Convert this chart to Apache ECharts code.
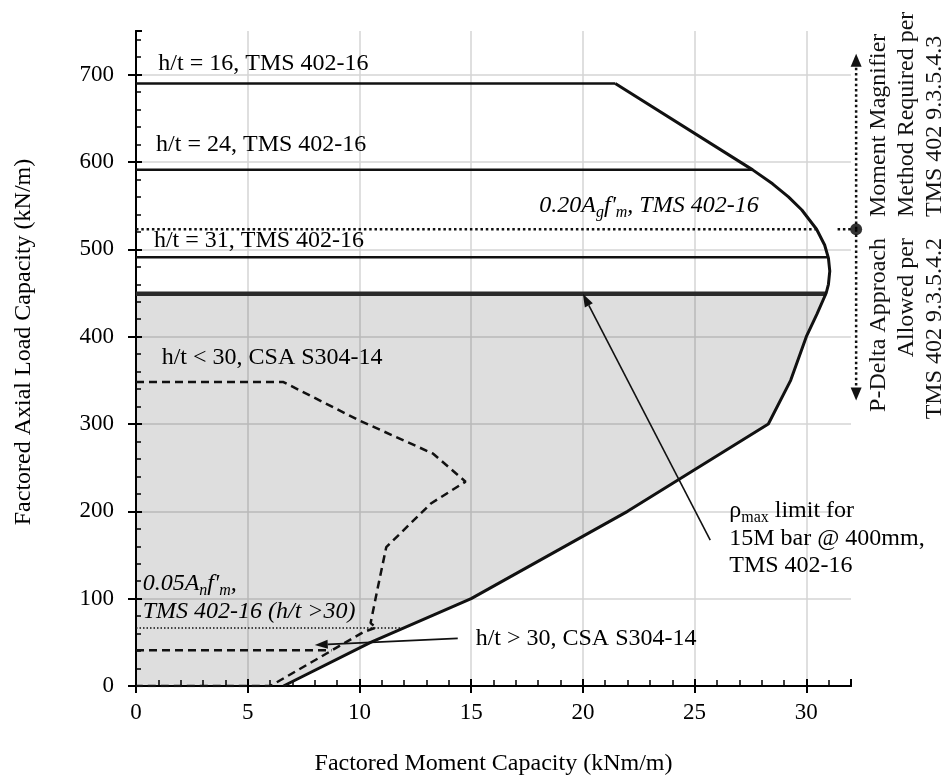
<!DOCTYPE html>
<html><head><meta charset="utf-8">
<script src="https://cdn.jsdelivr.net/npm/echarts@6/dist/echarts.min.js"></script>
<style>html,body{margin:0;padding:0;background:#fff}#c{width:948px;height:781px}</style>
</head><body><div id="c"></div>
<script>
// ---- axes ----
const xMin = 0, xMax = 32, xStep = 5;
const yMin = 0, yMax = 750, yStep = 100;
const xTitle = 'Factored Moment Capacity (kNm/m)';
const yTitle = 'Factored Axial Load Capacity (kN/m)';

// ---- interaction envelope (moment M, axial P) ----
const envM = [6.6, 10.5, 15.0, 22.0, 28.3, 29.3, 30.0, 30.48, 30.89, 30.99, 31.05, 30.99, 30.82, 30.46, 29.8, 29.2, 28.49, 27.6, 21.45];
const envP = [0, 50, 100, 200, 300, 350, 400, 426, 450, 460, 475, 490, 505, 523, 545, 560, 575, 591, 690];

// ---- slenderness cut-off lines (TMS 402-16) ----
const ht16M = [0, 21.45], ht16P = [690, 690];
const ht24M = [0, 27.6],  ht24P = [591, 591];
const ht31M = [0, 30.99], ht31P = [491, 491];
const rhoM  = [0, 30.89], rhoP  = [449, 449];

// ---- CSA S304-14 curves ----
const csaLtM = [0, 6.6, 10.0, 13.3, 14.75, 13.2, 11.2, 10.8, 10.5, 10.75, 10.2, 6.15, 6.0, 0];
const csaLtP = [348, 348, 304, 266, 234, 209, 159, 110, 72, 67, 62, 2, 0, 0];
const csaGtM = [0, 8.75], csaGtP = [41, 41];

// ---- limits ----
const lim05M = [0, 12.0],   lim05P = [66.5, 66.5];
const lim20M = [0, 30.46],  lim20P = [523, 523];
const lim20bM = [31.4, 36.0], lim20bP = [523, 523];
const dotM = [32.23], dotP = [523];

// ---- arrows [fromM, fromP, toM, toP, dotted] ----
const arrows = [
  [25.7, 167, 20.0, 449, 0],
  [14.4, 54.5, 8.0, 47, 0],
  [32.23, 523, 32.23, 724, 1],
  [32.23, 523, 32.23, 327, 1]
];

const FONT = "'Liberation Serif','Times New Roman',serif";
const zip = (a, b) => a.map((v, i) => [v, b[i]]);

const fillPts = [[0, 0]].concat(zip(envM, envP).filter(p => p[1] <= 450)).concat([[0, 450]]);

const chart = echarts.init(document.getElementById('c'), null, {renderer: 'canvas'});

function lineSeries(m, p, width, dash, extra) {
  return Object.assign({
    type: 'line', data: zip(m, p), showSymbol: false, symbol: 'none', silent: true,
    lineStyle: {color: '#111', width: width, type: dash || 'solid'}, z: 3, animation: false
  }, extra || {});
}

const baseAxisCommon = {
  type: 'value',
  axisLine: {show: true, onZero: false, lineStyle: {color: '#000', width: 2}},
};

chart.setOption({
  animation: false,
  backgroundColor: '#fff',
  grid: {left: 136, right: 97, top: 31, bottom: 95, containLabel: false, outerBoundsMode: 'none'},
  xAxis: [
    Object.assign({}, baseAxisCommon, {
      min: xMin, max: xMax, interval: xStep, position: 'bottom',
      axisTick: {show: true, inside: false, length: 7, lineStyle: {color: '#000', width: 2}},
      axisLabel: {show: true, margin: 15, fontSize: 23, color: '#000', fontFamily: FONT, showMaxLabel: false},
      splitLine: {show: true, showMinLine: false, showMaxLine: false, lineStyle: {color: '#d4d4d4', width: 1.5}},
      name: xTitle, nameLocation: 'middle', nameGap: 66,
      nameTextStyle: {fontSize: 24, color: '#000', fontFamily: FONT}
    }),
    Object.assign({}, baseAxisCommon, {
      min: xMin, max: xMax, interval: xStep, position: 'bottom',
      axisTick: {show: true, inside: true, length: 7, lineStyle: {color: '#000', width: 2}},
      minorTick: {show: true, splitNumber: 5, length: 6, lineStyle: {color: '#000', width: 1.5}},
      axisLabel: {show: false}, splitLine: {show: false}
    })
  ],
  yAxis: [
    Object.assign({}, baseAxisCommon, {
      min: yMin, max: yMax, interval: yStep, position: 'left',
      axisTick: {show: true, inside: false, length: 8, lineStyle: {color: '#000', width: 2}},
      axisLabel: {show: true, margin: 22, fontSize: 23, color: '#000', fontFamily: FONT, showMaxLabel: false},
      splitLine: {show: true, showMinLine: false, showMaxLine: false, lineStyle: {color: '#d4d4d4', width: 1.5}}
    }),
    Object.assign({}, baseAxisCommon, {
      min: yMin, max: yMax, interval: yStep, position: 'left',
      axisTick: {show: true, inside: true, length: 6, lineStyle: {color: '#000', width: 2}},
      minorTick: {show: true, splitNumber: 5, length: 5, lineStyle: {color: '#000', width: 1.5}},
      axisLabel: {show: false}, splitLine: {show: false}
    })
  ],
  series: [
    {
      type: 'custom', silent: true, z: 1, data: [[0, 0]],
      renderItem: (params, api) => ({
        type: 'polygon',
        shape: {points: fillPts.map(p => api.coord(p))},
        style: {fill: 'rgba(0,0,0,0.13)'}
      })
    },
    lineSeries(ht16M, ht16P, 2.5),
    lineSeries(ht24M, ht24P, 2.5),
    lineSeries(ht31M, ht31P, 2.5),
    lineSeries(rhoM, rhoP, 4.5, 'solid', {lineStyle: {color: '#2a2a2a', width: 4.5}}),
    lineSeries(envM, envP, 3),
    lineSeries(csaLtM, csaLtP, 2.5, [8, 5]),
    lineSeries(csaGtM, csaGtP, 2.5, [8, 5]),
    lineSeries(lim05M, lim05P, 1.5, [1.5, 2]),
    lineSeries(lim20M, lim20P, 2.5, [2.5, 2.8]),
    lineSeries(lim20bM, lim20bP, 2.5, [2.5, 2.8], {clip: false}),
    {
      type: 'custom', silent: true, z: 4, clip: false, data: arrows,
      renderItem: (params, api) => {
        const p1 = api.coord([api.value(0), api.value(1)]);
        const p2 = api.coord([api.value(2), api.value(3)]);
        const dotted = api.value(4) === 1;
        const dx = p2[0] - p1[0], dy = p2[1] - p1[1];
        const L = Math.hypot(dx, dy), ux = dx / L, uy = dy / L;
        const hl = 13, hw = dotted ? 5.5 : 4.5;
        const bx = p2[0] - ux * hl, by = p2[1] - uy * hl;
        return {type: 'group', children: [
          {type: 'line', shape: {x1: p1[0], y1: p1[1], x2: bx, y2: by},
           style: {stroke: '#111', lineWidth: dotted ? 2.5 : 1.6, lineDash: dotted ? [2.5, 2.8] : null}},
          {type: 'polygon', shape: {points: [[p2[0], p2[1]], [bx - uy * hw, by + ux * hw], [bx + uy * hw, by - ux * hw]]},
           style: {fill: '#111'}}
        ]};
      }
    },
    {
      type: 'scatter', data: zip(dotM, dotP), symbol: 'circle', symbolSize: 12, clip: false, silent: true, z: 5,
      itemStyle: {color: '#000'}
    }
  ]
});

// ---- annotations (anchored in data coordinates) ----
const notes = [
  {at: [1.0, 712], rich: [['n', 'h/t = 16, TMS 402-16']]},
  {at: [0.9, 620], rich: [['n', 'h/t = 24, TMS 402-16']]},
  {at: [0.8, 510], rich: [['n', 'h/t = 31, TMS 402-16']]},
  {at: [1.15, 376], rich: [['n', 'h/t < 30, CSA S304-14']]},
  {at: [18.05, 550], rich: [['i', '0.20A'], ['is', 'g'], ['i', "f'"], ['is', 'm'], ['i', ', TMS 402-16']]},
  {at: [0.3, 117], rich: [['i', '0.05A'], ['is', 'n'], ['i', "f'"], ['is', 'm'], ['i', ',']]},
  {at: [0.3, 85], rich: [['i', 'TMS 402-16 (h/t >30)']]},
  {at: [15.2, 54], rich: [['n', 'h/t > 30, CSA S304-14']]},
  {at: [26.55, 201], rich: [['n', 'ρ'], ['s', 'max'], ['n', ' limit for']]},
  {at: [26.55, 168.5], rich: [['n', '15M bar @ 400mm,']]},
  {at: [26.55, 138], rich: [['n', 'TMS 402-16']]}
];
const richStyles = {
  n: {fontSize: 24, fontFamily: FONT, color: '#111', lineHeight: 30, verticalAlign: 'middle'},
  i: {fontSize: 24, fontFamily: FONT, fontStyle: 'italic', color: '#111', lineHeight: 30, verticalAlign: 'middle'},
  is: {fontSize: 16, fontFamily: FONT, fontStyle: 'italic', color: '#111', lineHeight: 16, verticalAlign: 'bottom'},
  s: {fontSize: 16, fontFamily: FONT, color: '#111', lineHeight: 16, verticalAlign: 'bottom'}
};
const graphics = notes.map(n => {
  const p = chart.convertToPixel({gridIndex: 0}, n.at);
  return {
    type: 'text', x: p[0], y: p[1], silent: true, z: 10,
    style: {
      text: n.rich.map(r => '{' + r[0] + '|' + r[1] + '}').join(''),
      rich: richStyles, align: 'left', verticalAlign: 'middle'
    }
  };
});

// ---- y axis title (rotated) ----
graphics.push({
  type: 'text', x: 24, y: 342, rotation: Math.PI / 2, silent: true, z: 10,
  style: {text: yTitle, fontSize: 24, fontFamily: FONT, fill: '#000', align: 'center', verticalAlign: 'middle'}
});

// ---- rotated notes to the right of the plot ----
const sideUpper = ['Moment Magnifier', 'Method Required per', 'TMS 402 9.3.5.4.3'];
const sideLower = ['P-Delta Approach', 'Allowed per', 'TMS 402 9.3.5.4.2'];
const sideX = [879, 907, 935];
sideUpper.forEach((t, i) => graphics.push({
  type: 'text', x: sideX[i], y: 217, rotation: Math.PI / 2, silent: true, z: 10,
  style: {text: t, fontSize: 24, fontFamily: FONT, fill: '#111', align: 'left', verticalAlign: 'middle'}
}));
sideLower.forEach((t, i) => graphics.push({
  type: 'text', x: sideX[i], y: 238, rotation: Math.PI / 2, silent: true, z: 10,
  style: {text: t, fontSize: 24, fontFamily: FONT, fill: '#111', align: 'right', verticalAlign: 'middle'}
}));
chart.setOption({graphic: graphics});
</script></body></html>
